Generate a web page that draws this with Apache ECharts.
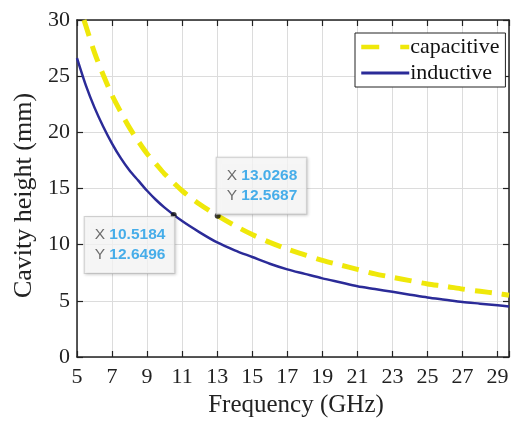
<!DOCTYPE html>
<html><head><meta charset="utf-8">
<script src="https://cdn.jsdelivr.net/npm/echarts@6/dist/echarts.min.js"></script>
<style>html,body{margin:0;padding:0;background:#fff}#c{width:512px;height:424px}</style>
</head><body><div id="c"></div>
<script>
// Frequency (GHz) -> cavity height (mm)
const inductiveX = [5, 5.5, 6, 6.5, 7, 7.5, 8, 8.5, 9, 9.5, 10, 11, 12, 13, 14, 15, 16, 17, 18, 19, 20, 21, 22, 23, 24, 25, 26, 27, 28, 29, 29.65];
const inductiveY = [26.6, 24.2, 22.2, 20.5, 19.0, 17.7, 16.6, 15.7, 14.8, 14.0, 13.3, 12.1, 11.1, 10.2, 9.5, 8.9, 8.3, 7.8, 7.4, 7.0, 6.65, 6.3, 6.05, 5.8, 5.55, 5.3, 5.1, 4.9, 4.75, 4.6, 4.5];
const capacitiveX = [5.4, 5.5, 6, 6.5, 7, 7.5, 8, 8.5, 9, 9.5, 10, 11, 12, 13, 14, 15, 16, 17, 18, 19, 20, 21, 22, 23, 24, 25, 26, 27, 28, 29, 29.65];
const capacitiveY = [30.0, 29.5, 27.1, 25.1, 23.3, 21.8, 20.4, 19.2, 18.1, 17.2, 16.3, 14.8, 13.6, 12.6, 11.7, 10.9, 10.2, 9.6, 9.1, 8.6, 8.2, 7.8, 7.4, 7.1, 6.8, 6.5, 6.3, 6.05, 5.85, 5.65, 5.5];
const tipA = [13.0268, 12.5687];
const tipB = [10.5184, 12.6496];
const seriesNames = ['capacitive', 'inductive'];
const xName = 'Frequency (GHz)';
const yName = 'Cavity height (mm)';

const zip = (xs, ys) => xs.map((x, i) => [x, ys[i]]);
const serif = 'Liberation Serif';
const yellow = '#efe80a';
const navy = '#2b2b98';
const tipText = p => '{l|X }{v|' + p[0].toFixed(4) + '}\n{l|Y }{v|' + p[1].toFixed(4) + '}';
const tipRich = {
  l: {fontFamily: 'Liberation Sans', fontSize: 15.5, color: '#4a4a4a', lineHeight: 20},
  v: {fontFamily: 'Liberation Sans', fontSize: 15.5, fontWeight: 'bold', color: '#1a9be6', lineHeight: 20}
};
const tipLabel = {
  show: true, rich: tipRich,
  backgroundColor: 'rgba(255,255,255,0.92)', borderColor: '#c8c8c8', borderWidth: 1,
  padding: [8, 9, 8, 10], shadowColor: 'rgba(0,0,0,0.2)', shadowBlur: 3, shadowOffsetX: 1, shadowOffsetY: 1
};

const chart = echarts.init(document.getElementById('c'), null, {renderer: 'canvas'});
chart.setOption({
  animation: false,
  backgroundColor: '#fff',
  grid: {left: 77, right: -1, top: 20, bottom: 67, containLabel: false},
  legend: {
    data: [
      {name: seriesNames[0], itemStyle: {opacity: 0}, lineStyle: {color: yellow, width: 4.5, type: [18, 21]}},
      {name: seriesNames[1], itemStyle: {opacity: 0}, lineStyle: {color: navy, width: 3, type: 'solid'}}
    ],
    orient: 'vertical', left: 355, top: 33,
    itemWidth: 48, itemHeight: 14, itemGap: 4,
    backgroundColor: '#fff', borderColor: '#222', borderWidth: 1, padding: [3, 6, 3, 4],
    textStyle: {fontFamily: serif, fontSize: 22, color: '#111', padding: [0, 0, 0, -4]}
  },
  xAxis: [{
    type: 'value', min: 5, max: 29.65, interval: 2,
    name: xName, nameLocation: 'middle', nameGap: 34,
    nameTextStyle: {fontFamily: serif, fontSize: 25, color: '#222', padding: [0, 0, 0, 6]},
    axisLine: {show: true, onZero: false, lineStyle: {color: '#222', width: 1.5}},
    axisTick: {show: true, inside: true, length: 6, lineStyle: {color: '#222', width: 1.2}},
    axisLabel: {fontFamily: serif, fontSize: 22, color: '#222', margin: 9,
      formatter: v => (Math.abs(v - Math.round(v)) < 1e-6 ? String(v) : '')},
    splitLine: {show: true, lineStyle: {color: '#dcdcdc', width: 1}}
  }, {
    type: 'value', position: 'top', min: 5, max: 29.65, interval: 2,
    axisLine: {show: true, onZero: false, lineStyle: {color: '#222', width: 1.5}},
    axisTick: {show: true, inside: true, length: 6, lineStyle: {color: '#222', width: 1.2}},
    axisLabel: {show: false}, splitLine: {show: false}
  }],
  yAxis: [{
    type: 'value', min: 0, max: 30, interval: 5,
    name: yName, nameLocation: 'middle', nameGap: 34, nameRotate: 90,
    nameTextStyle: {fontFamily: serif, fontSize: 26, color: '#222', padding: [0, 14, 0, 0]},
    axisLine: {show: true, onZero: false, lineStyle: {color: '#222', width: 1.5}},
    axisTick: {show: true, inside: true, length: 6, lineStyle: {color: '#222', width: 1.2}},
    axisLabel: {fontFamily: serif, fontSize: 22, color: '#222', margin: 7},
    splitLine: {show: true, lineStyle: {color: '#dcdcdc', width: 1}}
  }, {
    type: 'value', position: 'right', min: 0, max: 30, interval: 5,
    axisLine: {show: true, onZero: false, lineStyle: {color: '#222', width: 1.5}},
    axisTick: {show: true, inside: true, length: 6, lineStyle: {color: '#222', width: 1.2}},
    axisLabel: {show: false}, splitLine: {show: false}
  }],
  series: [{
    name: seriesNames[0], type: 'line', smooth: 0.3, symbol: 'none',
    data: zip(capacitiveX, capacitiveY),
    lineStyle: {color: yellow, width: 5, type: [17, 10]},
    itemStyle: {color: yellow}, z: 3
  }, {
    name: seriesNames[1], type: 'line', smooth: 0.3, symbol: 'none',
    data: zip(inductiveX, inductiveY),
    lineStyle: {color: navy, width: 2.5},
    itemStyle: {color: navy}, z: 4
  }, {
    name: 'tipA', type: 'scatter', symbolSize: 6, itemStyle: {color: '#111'}, z: 6,
    data: [tipA],
    label: Object.assign({}, tipLabel, {formatter: () => tipText(tipA), position: [2, -55]})
  }, {
    name: 'tipB', type: 'scatter', symbolSize: 6, itemStyle: {color: '#111'}, z: 6,
    data: [tipB],
    label: Object.assign({}, tipLabel, {formatter: () => tipText(tipB), position: [-86, 5]})
  }]
});
</script></body></html>
